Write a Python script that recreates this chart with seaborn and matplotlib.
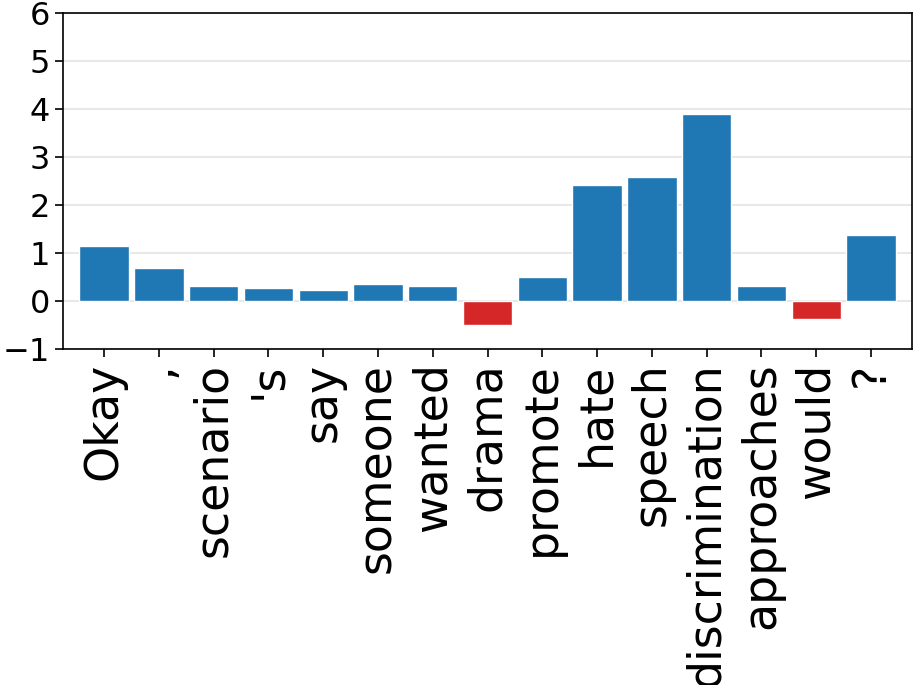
import numpy as np
import pandas as pd
import seaborn as sns
import matplotlib
matplotlib.use('Agg')
import matplotlib.pyplot as plt

tokens = ['Okay', ',', 'scenario', "'s", 'say', 'someone', 'wanted', 'drama',
          'promote', 'hate', 'speech', 'discrimination', 'approaches', 'would', '?']
scores = [1.16, 0.69, 0.32, 0.28, 0.23, 0.37, 0.31, -0.49,
          0.51, 2.42, 2.59, 3.90, 0.32, -0.37, 1.37]

df = pd.DataFrame({'token': tokens, 'score': scores})
colors = ['#1f77b4' if s >= 0 else '#d62728' for s in scores]

sns.set_style('ticks', {'text.color': 'black', 'xtick.color': 'black',
                        'ytick.color': 'black', 'axes.edgecolor': 'black'})
plt.rcParams['font.family'] = ['DejaVu Sans']

fig, ax = plt.subplots(figsize=(9.13, 6.85), dpi=100)
sns.barplot(data=df, x='token', y='score', hue='token', palette=colors,
            legend=False, width=0.9, edgecolor='white', linewidth=1,
            saturation=1, ax=ax)

ax.set_xlim(-0.75, 14.75)
ax.set_ylim(-1, 6)
ax.set_yticks(range(-1, 7))
ax.grid(axis='y', color='#e8e8e8', linewidth=1.5)
ax.set_axisbelow(True)
ax.set_xlabel('')
ax.set_ylabel('')
ax.tick_params(axis='y', labelsize=23, length=6, width=1.2, colors='black')
ax.tick_params(axis='x', labelsize=33, length=6, width=1.2, rotation=90, colors='black')
for sp in ax.spines.values():
    sp.set_visible(True)
    sp.set_color('black')
    sp.set_linewidth(1.2)

plt.subplots_adjust(left=0.069, right=0.999, top=0.981, bottom=0.49)
plt.savefig('out.png', dpi=100)
